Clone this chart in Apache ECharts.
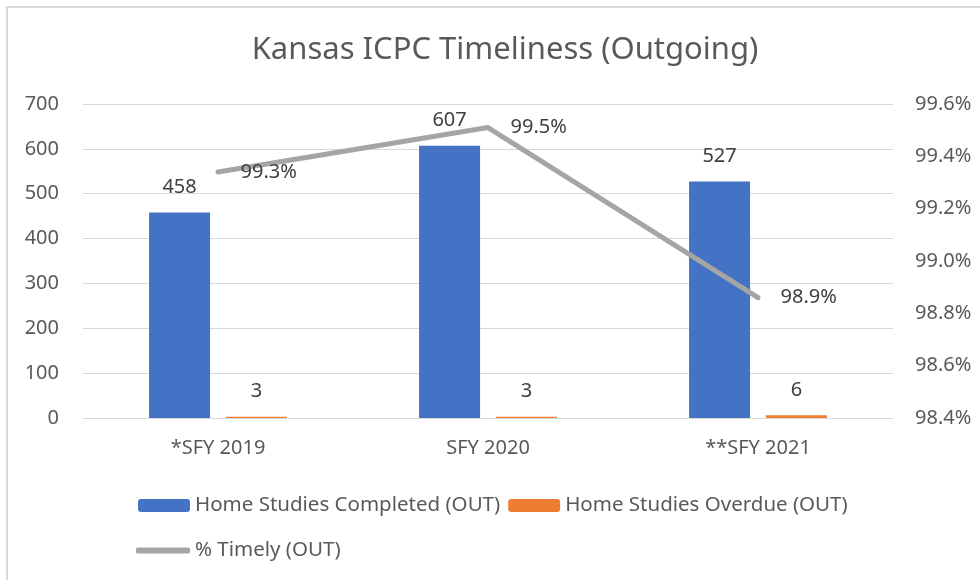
<!DOCTYPE html>
<html>
<head>
<meta charset="utf-8">
<script src="https://cdn.jsdelivr.net/npm/echarts@6/dist/echarts.min.js"></script>
<style>
  html, body { margin: 0; padding: 0; background: #fff; }
  #chart { position: absolute; left: 0; top: 0; width: 980px; height: 580px; }
  #frame { position: absolute; left: 6px; top: 6px; width: 990px; height: 600px; border-left: 2px solid #d9d9d9; border-top: 2px solid #d9d9d9; pointer-events: none; }
</style>
</head>
<body>
<div id="chart"></div>
<div id="frame"></div>
<script>
// values
var years = ['*SFY 2019', 'SFY 2020', '**SFY 2021'];
var completed = [458, 607, 527];
var overdue = [3, 3, 6];
var timely = [99.34, 99.51, 98.86];

var FONT = '"Noto Sans", sans-serif';
var TXT = '#595959';
var LBL = '#404040';

var chart = echarts.init(document.getElementById('chart'));

var option = {
  textStyle: { fontFamily: FONT },
  title: {
    text: 'Kansas ICPC Timeliness (Outgoing)',
    left: 500,
    textAlign: 'center',
    top: 30,
    textStyle: { fontFamily: FONT, fontSize: 31, fontWeight: 'normal', color: TXT }
  },
  legend: [
    {
      data: ['Home Studies Completed (OUT)', 'Home Studies Overdue (OUT)'],
      left: 133, top: 490,
      itemWidth: 52, itemHeight: 13, itemGap: 8,
      textStyle: { fontFamily: FONT, fontSize: 20.5, color: TXT }
    },
    {
      data: [{ name: '% Timely (OUT)', icon: 'roundRect' }],
      left: 131, top: 535,
      itemWidth: 54, itemHeight: 6,
      textStyle: { fontFamily: FONT, fontSize: 20.5, color: TXT }
    }
  ],
  grid: { left: 83, right: 87, top: 104, bottom: 162, containLabel: false },
  xAxis: {
    type: 'category',
    data: years,
    axisLine: { lineStyle: { color: '#d9d9d9', width: 1 } },
    axisTick: { show: false },
    axisLabel: { color: TXT, fontSize: 20, margin: 20, fontFamily: FONT }
  },
  yAxis: [
    {
      type: 'value', min: 0, max: 700, interval: 100,
      axisLine: { show: false }, axisTick: { show: false },
      axisLabel: { color: TXT, fontSize: 20, margin: 24, fontFamily: FONT },
      splitLine: { lineStyle: { color: '#d9d9d9', width: 1 } }
    },
    {
      type: 'value', min: 98.4, max: 99.6, interval: 0.2,
      axisLine: { show: false }, axisTick: { show: false },
      axisLabel: {
        color: TXT, fontSize: 20, margin: 22, fontFamily: FONT,
        formatter: function (v) { return v.toFixed(1) + '%'; }
      },
      splitLine: { show: false }
    }
  ],
  series: [
    {
      name: 'Home Studies Completed (OUT)',
      type: 'bar',
      data: completed,
      itemStyle: { color: '#4472C4' },
      barWidth: 61,
      barGap: '26%',
      label: { show: true, position: 'top', distance: 15, color: LBL, fontSize: 20, fontFamily: FONT }
    },
    {
      name: 'Home Studies Overdue (OUT)',
      type: 'bar',
      data: overdue,
      itemStyle: { color: '#ED7D31' },
      barWidth: 61,
      barGap: '26%',
      label: { show: true, position: 'top', distance: 15, color: LBL, fontSize: 20, fontFamily: FONT }
    },
    {
      name: '% Timely (OUT)',
      type: 'line',
      yAxisIndex: 1,
      data: timely,
      symbol: 'circle',
      symbolSize: 1,
      lineStyle: { color: '#A5A5A5', width: 5, cap: 'round', join: 'round' },
      itemStyle: { color: '#A5A5A5' },
      label: {
        show: true, position: 'right', distance: 22, color: LBL, fontSize: 20, fontFamily: FONT,
        formatter: function (p) { return p.value.toFixed(1) + '%'; }
      },
      z: 5
    }
  ]
};

chart.setOption(option);
</script>
</body>
</html>
